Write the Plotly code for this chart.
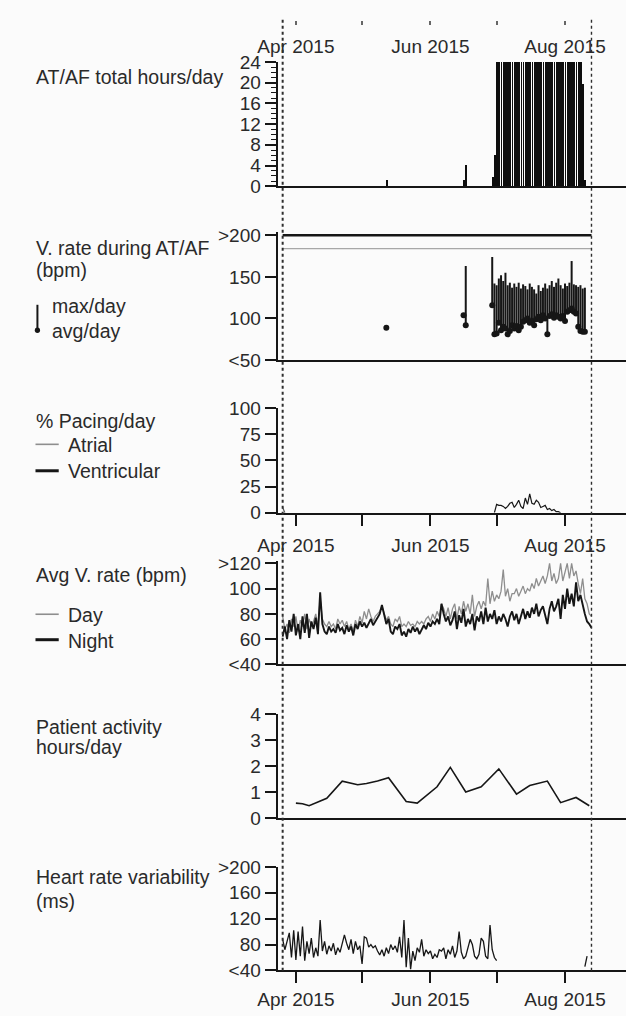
import plotly.graph_objects as go
import pandas as pd

W, H = 626, 1016
FONT = "Liberation Sans, Arial, Helvetica, sans-serif"
INK = "#161616"
TXT = "#2a2a2a"
GREY = "#8e8e8e"
BG = "#fbfbfb"

# ===================== DATA =====================
window_dates = ["2015-03-26", "2015-08-13"]          # dotted window boundaries

# --- AT/AF total hours/day ---
af_event_dates = ["2015-05-12", "2015-06-16", "2015-06-17", "2015-06-29", "2015-06-30"]
af_event_hours = [1.2, 1.2, 4.1, 1.9, 6.0]
af_run_start = "2015-07-01"
af_run_hours = [24, 24, 24, 24, 24, 24, 24, 24, 24, 24,
                24, 24, 24, 24, 24, 24, 24, 24, 24, 24,
                24, 24, 24, 24, 24, 24, 24, 24, 24, 24,
                24, 24, 24, 24, 24, 24, 24, 24, 24, 19.8, 1.2]
af_ticks = [0, 4, 8, 12, 16, 20, 24]
af_ticktext = ["0", "4", "8", "12", "16", "20", "24"]

# --- V. rate during AT/AF (bpm) ---
vr_event_dates = ["2015-05-12", "2015-06-16", "2015-06-17", "2015-06-29", "2015-06-30"]
vr_event_avg = [89, 104, 92, 116, 81]
vr_event_max = [89, 105, 163, 174, 142]
vr_run_start = "2015-07-01"
vr_run_avg = [82, 95, 86, 90, 88, 81, 85, 92, 88, 91,
              86, 90, 96, 98, 100, 95, 97, 92, 99, 102,
              98, 104, 100, 81, 103, 105, 101, 104, 102, 100,
              103, 97, 108, 110, 112, 108, 106, 90, 85, 84, 84]
vr_run_max = [140, 148, 152, 145, 155, 140, 143, 137, 142, 138,
              143, 136, 141, 139, 135, 142, 138, 135, 130, 140,
              133, 137, 142, 136, 140, 145, 138, 143, 148, 140,
              136, 142, 139, 143, 169, 141, 140, 138, 140, 136, 137]
vr_upper_level = 200
vr_ref_level = 184
vr_ticks = [50, 100, 150, 200]
vr_ticktext = ["<50", "100", "150", ">200"]

# --- % Pacing/day ---
atrial_dates = ["2015-03-26", "2015-03-27"]
atrial_pct = [5, 0]
vent_start = "2015-06-30"
vent_pct = [0, 8, 7, 7, 6, 4, 6, 9, 10, 5,
            8, 12, 6, 4, 14, 8, 18, 9, 8, 12,
            10, 5, 6, 7, 3, 4, 2, 3, 1, 1, 0]
pace_ticks = [0, 25, 50, 75, 100]
pace_ticktext = ["0", "25", "50", "75", "100"]

# --- Avg V. rate (bpm), daily from 2015-03-26 ---
rate_start = "2015-03-26"
day_rate = [78, 68, 72, 65, 76, 70, 78,
            66, 75, 70, 80, 68, 76, 70,
            74, 80, 70, 92, 76, 72, 70,
            74, 70, 72, 68, 76, 72, 75,
            70, 74, 68, 72, 66, 75, 70,
            78, 73, 82, 76, 84, 78, 74,
            78, 80, 82, 86, 80, 75, 78,
            72, 70, 76, 74, 78, 70, 72,
            70, 74, 71, 72, 70, 74, 72,
            74, 72, 76, 78, 74, 80, 76,
            82, 78, 88, 84, 78, 85, 76,
            84, 88, 76, 86, 80, 90, 82,
            88, 80, 95, 78, 86, 90, 84,
            90, 86, 108, 88, 98, 90, 95,
            92, 98, 115, 94, 100, 90, 96,
            96, 100, 94, 98, 102, 96, 100,
            98, 104, 100, 108, 102, 106, 110,
            104, 110, 120, 106, 112, 104, 108,
            120, 106, 112, 120, 108, 120, 110,
            114, 104, 96, 108, 92, 88, 80,
            78]
night_rate = [62, 70, 60, 75, 66, 80, 63,
              72, 60, 78, 65, 80, 61, 74,
              68, 77, 64, 97, 72, 66, 64,
              70, 66, 68, 65, 72, 67, 69,
              64, 71, 66, 70, 63, 72, 68,
              74, 70, 73, 69, 72, 76, 71,
              74, 78, 80, 87, 78, 72, 76,
              66, 64, 70, 68, 72, 63, 66,
              62, 68, 65, 70, 66, 69, 64,
              67, 71, 68, 73, 70, 74, 72,
              76, 72, 88, 80, 74, 78, 71,
              75, 82, 68, 79, 73, 84, 70,
              76, 72, 80, 67, 78, 74, 82,
              72, 85, 74, 80, 76, 83, 72,
              78, 74, 80, 76, 70, 78, 82,
              75, 80, 72, 78, 84, 76, 82,
              77, 85, 80, 88, 78, 83, 86,
              80, 72, 84, 90, 82, 86, 92,
              76, 95, 84, 100, 88, 96, 86,
              105, 90, 95, 86, 80, 74, 72,
              69]
rate_ticks = [40, 60, 80, 100, 120]
rate_ticktext = ["<40", "60", "80", "100", ">120"]

# --- Patient activity hours/day ---
act_dates = ["2015-04-01", "2015-04-04", "2015-04-07", "2015-04-15", "2015-04-22",
             "2015-04-29", "2015-05-03", "2015-05-08", "2015-05-13", "2015-05-21",
             "2015-05-26", "2015-06-04", "2015-06-10", "2015-06-17", "2015-06-24",
             "2015-07-02", "2015-07-10", "2015-07-16", "2015-07-24", "2015-07-30",
             "2015-08-06", "2015-08-12"]
act_hours = [0.57, 0.55, 0.47, 0.76, 1.42, 1.28, 1.33, 1.42, 1.55, 0.63,
             0.57, 1.2, 1.95, 1.0, 1.2, 1.89, 0.92, 1.25, 1.42, 0.59,
             0.79, 0.47]
act_ticks = [0, 1, 2, 3, 4]
act_ticktext = ["0", "1", "2", "3", "4"]

# --- Heart rate variability (ms) ---
hrv_start = "2015-03-26"
hrv_ms = [88, 72, 85, 98, 60, 102,
          56, 100, 62, 108, 55, 85, 66, 90, 60, 75,
          62, 118, 70, 85, 65, 78, 70, 82, 64, 75,
          68, 80, 95, 82, 72, 88, 66, 85, 72, 78,
          50, 92, 90, 76, 80, 75, 78, 70, 64, 72,
          62, 75, 66, 80, 72, 78, 68, 92, 60, 118,
          45, 90, 42, 70, 55, 75, 68, 88, 62, 72, 66,
          70, 58, 65, 60, 72, 70, 75, 58, 72, 65,
          78, 60, 70, 100, 68, 58, 62, 75, 88, 80,
          62, 58, 65, 90, 85, 62, 58, 110, 72, 60,
          55]
hrv_late_dates = ["2015-08-10", "2015-08-11"]
hrv_late_ms = [46, 62]
hrv_ticks = [40, 80, 120, 160, 200]
hrv_ticktext = ["<40", "80", "120", "160", ">200"]

# ===================== GEOMETRY HELPERS =====================
def py(p):
    return 1 - p / H

def pxp(p):
    return p / W

DAY_MS = 86400000
x_left_px, apr1_px, aug1_px = 266, 285, 563
days_per_px = 122 / (aug1_px - apr1_px)
apr1 = pd.Timestamp("2015-04-01")
x_lo = apr1 - pd.Timedelta(days=(apr1_px - x_left_px) * days_per_px)
x_hi = apr1 + pd.Timedelta(days=(W - apr1_px) * days_per_px)
xrange = [x_lo.strftime("%Y-%m-%d %H:%M:%S"), x_hi.strftime("%Y-%m-%d %H:%M:%S")]
xdomain = [pxp(x_left_px), 1]

# ===================== FIGURE =====================
fig = go.Figure()

# Panel 1 : AT/AF burden bars (thin bars are expanded to whole pixels by plotly)
af_x = af_event_dates + list(pd.date_range(af_run_start, periods=len(af_run_hours), freq="D"))
af_y = af_event_hours + af_run_hours
fig.add_trace(go.Bar(x=af_x, y=af_y, xaxis="x", yaxis="y", width=0.35 * DAY_MS,
                     marker=dict(color="#0e0e0e", line=dict(width=0))))

# Panel 2 : V. rate during AT/AF
fig.add_trace(go.Scatter(x=window_dates, y=[vr_upper_level, vr_upper_level], xaxis="x2", yaxis="y2",
                         mode="lines", line=dict(color=INK, width=2.6)))
fig.add_trace(go.Scatter(x=window_dates, y=[vr_ref_level, vr_ref_level], xaxis="x2", yaxis="y2",
                         mode="lines", line=dict(color="#a8a8a8", width=1.3)))
vr_x = vr_event_dates + list(pd.date_range(vr_run_start, periods=len(vr_run_avg), freq="D"))
vr_avg = vr_event_avg + vr_run_avg
vr_max = vr_event_max + vr_run_max
fig.add_trace(go.Scatter(x=vr_x, y=vr_avg, xaxis="x2", yaxis="y2", mode="markers",
                         marker=dict(color=INK, size=6),
                         error_y=dict(type="data", symmetric=False,
                                      array=[m - a for m, a in zip(vr_max, vr_avg)],
                                      arrayminus=[0] * len(vr_avg),
                                      width=0, thickness=2, color=INK)))

# Panel 3 : pacing
fig.add_trace(go.Scatter(x=atrial_dates, y=atrial_pct, xaxis="x3", yaxis="y3", mode="lines",
                         line=dict(color="#555555", width=1.2)))
fig.add_trace(go.Scatter(x=pd.date_range(vent_start, periods=len(vent_pct), freq="D"), y=vent_pct,
                         xaxis="x3", yaxis="y3", mode="lines", line=dict(color=INK, width=1.2)))

# Panel 4 : avg V. rate day / night
rate_x = pd.date_range(rate_start, periods=len(day_rate), freq="D")
fig.add_trace(go.Scatter(x=rate_x, y=day_rate, xaxis="x4", yaxis="y4", mode="lines",
                         line=dict(color=GREY, width=1.3)))
fig.add_trace(go.Scatter(x=rate_x, y=night_rate, xaxis="x4", yaxis="y4", mode="lines",
                         line=dict(color=INK, width=1.9)))

# Panel 5 : activity
fig.add_trace(go.Scatter(x=act_dates, y=act_hours, xaxis="x5", yaxis="y5", mode="lines",
                         line=dict(color=INK, width=1.6)))

# Panel 6 : HRV
hrv_x = list(pd.date_range(hrv_start, periods=len(hrv_ms), freq="D")) + ["2015-07-02"] + hrv_late_dates
hrv_y = hrv_ms + [None] + hrv_late_ms
fig.add_trace(go.Scatter(x=hrv_x, y=hrv_y, xaxis="x6", yaxis="y6", mode="lines", connectgaps=False,
                         line=dict(color=INK, width=1.3)))

# empty trace to carry the top date axis
fig.add_trace(go.Scatter(x=[], y=[], xaxis="x7", yaxis="y", hoverinfo="skip"))

# ===================== AXES =====================
TICKFONT = dict(family=FONT, size=19, color=TXT)
panels = [
    # idx, top px, bottom px, vmin, vmax, pad px, tickvals, ticktext
    (1, 53, 180, 0, 24, 0, af_ticks, af_ticktext),
    (2, 230, 357.5, 50, 200, 3, vr_ticks, vr_ticktext),
    (3, 406.7, 513.3, 0, 100, 0, pace_ticks, pace_ticktext),
    (4, 565, 668.3, 40, 120, 2, rate_ticks, rate_ticktext),
    (5, 719, 825, 0, 4, 0, act_ticks, act_ticktext),
    (6, 875, 980.7, 40, 200, 0, hrv_ticks, hrv_ticktext),
]
lay = {}
for idx, top, bot, vmin, vmax, pad, tv, tt in panels:
    sfx = "" if idx == 1 else str(idx)
    upp = (vmax - vmin) / (bot - top)
    yax = dict(domain=[py(bot), py(top - pad)], range=[vmin, vmax + pad * upp],
               showgrid=False, zeroline=False, showline=True, linecolor=INK, linewidth=1.8,
               ticks="outside", ticklen=11, tickwidth=1.8, tickcolor=INK,
               tickmode="array", tickvals=tv, ticktext=tt, tickfont=TICKFONT,
               anchor="x" + sfx, fixedrange=True)
    if idx == 1:
        yax["minor"] = dict(dtick=1, tick0=0, ticks="outside", ticklen=5, tickwidth=1.3, tickcolor=INK)
    xax = dict(type="date", range=xrange, domain=xdomain, anchor="y" + sfx,
               showgrid=False, zeroline=False, showline=True, linecolor=INK, linewidth=1.8,
               ticks="", showticklabels=False, fixedrange=True)
    if idx in (3, 6):
        xax.update(ticks="outside", ticklen=11, tickwidth=1.8, tickcolor=INK,
                   showticklabels=True, dtick="M2", tick0="2015-04-01", tickformat="%b %Y",
                   tickfont=TICKFONT, ticklabelstandoff=4 if idx == 3 else 0,
                   minor=dict(dtick="M1", tick0="2015-04-01", ticks="outside", ticklen=11,
                              tickwidth=1.8, tickcolor=INK))
    lay["yaxis" + sfx] = yax
    lay["xaxis" + sfx] = xax

# top date labels (axis of a panel cropped off the top)
lay["xaxis7"] = dict(type="date", range=xrange, domain=xdomain, anchor="free", position=py(10),
                     overlaying="x", side="bottom", showgrid=False, zeroline=False, showline=False,
                     ticks="outside", ticklen=4, tickwidth=1.5, tickcolor="#666",
                     dtick="M2", tick0="2015-04-01", tickformat="%b %Y", tickfont=TICKFONT,
                     ticklabelstandoff=5,
                     minor=dict(dtick="M1", tick0="2015-04-01", ticks="outside", ticklen=4,
                                tickwidth=1.5, tickcolor="#666"),
                     fixedrange=True)

# ===================== SHAPES =====================
shapes = []
for d, w in zip(window_dates, [2.0, 1.4]):
    shapes.append(dict(type="line", xref="x", yref="paper", x0=d, x1=d, y0=py(981), y1=py(10),
                       line=dict(color="#2e2e2e", width=w, dash="dot"), layer="above"))
# legend glyphs
shapes += [
    dict(type="line", xref="paper", yref="paper", x0=pxp(18), x1=pxp(18), y0=py(327), y1=py(301),
         line=dict(color=INK, width=2)),
    dict(type="circle", xref="paper", yref="paper", x0=pxp(15.3), x1=pxp(20.7), y0=py(329.7), y1=py(324.3),
         fillcolor=INK, line=dict(color=INK, width=0)),
    dict(type="line", xref="paper", yref="paper", x0=pxp(16), x1=pxp(40), y0=py(443.5), y1=py(443.5),
         line=dict(color=GREY, width=1.6)),
    dict(type="line", xref="paper", yref="paper", x0=pxp(16), x1=pxp(40), y0=py(470.5), y1=py(470.5),
         line=dict(color=INK, width=3)),
    dict(type="line", xref="paper", yref="paper", x0=pxp(16), x1=pxp(40), y0=py(617), y1=py(617),
         line=dict(color=GREY, width=1.6)),
    dict(type="line", xref="paper", yref="paper", x0=pxp(16), x1=pxp(40), y0=py(643), y1=py(643),
         line=dict(color=INK, width=3)),
]

# ===================== LABELS =====================
labels = [
    ("AT/AF total hours/day", 14, 68),
    ("V. rate during AT/AF", 14, 243),
    ("(bpm)", 14, 265),
    ("max/day", 31, 302.5),
    ("avg/day", 31, 328),
    ("% Pacing/day", 14, 420),
    ("Atrial", 48, 444),
    ("Ventricular", 48, 471),
    ("Avg V. rate (bpm)", 14, 576.5),
    ("Day", 48, 617.5),
    ("Night", 48, 644),
    ("Patient activity", 14, 731.7),
    ("hours/day", 14, 752.5),
    ("Heart rate variability", 14, 885),
    ("(ms)", 14, 910),
]
annotations = [dict(text=t, x=pxp(x), y=py(y), xref="paper", yref="paper", xanchor="left",
                    yanchor="middle", showarrow=False, font=dict(family=FONT, size=19.5, color=TXT))
               for t, x, y in labels]

fig.update_layout(width=W, height=H, margin=dict(l=0, r=0, t=0, b=0, pad=0),
                  paper_bgcolor=BG, plot_bgcolor=BG, showlegend=False, bargap=0,
                  font=dict(family=FONT, size=19, color=TXT),
                  shapes=shapes, annotations=annotations, **lay)

fig.write_html("out.html")
